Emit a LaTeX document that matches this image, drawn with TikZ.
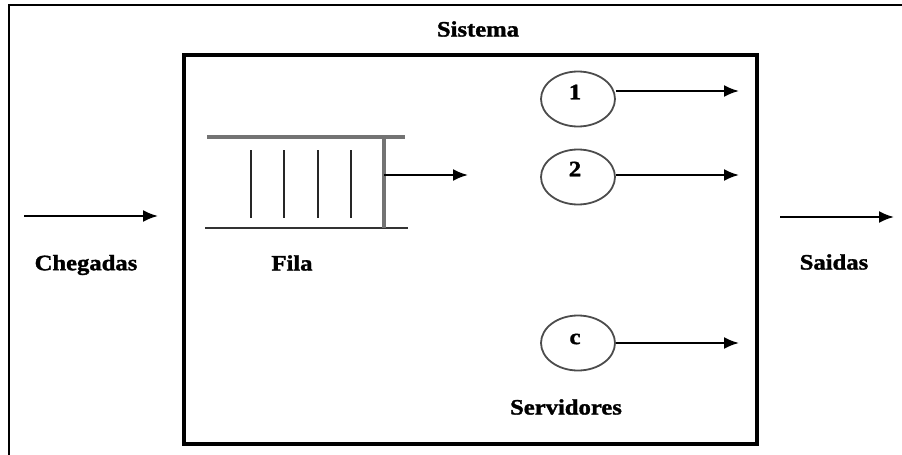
\documentclass[tikz,border=0pt]{standalone}
\usepackage{fontspec}
\setmainfont{Liberation Serif}
\newfontfamily\lblfont[FakeStretch=1.12,FakeBold=1.5]{Liberation Serif}
\usetikzlibrary{arrows.meta,shapes.geometric}
\begin{document}
\begin{tikzpicture}[x=1pt,y=-1pt,
  lbl/.style={font=\lblfont\fontsize{22}{24}\bfseries\selectfont, inner sep=0pt},
  num/.style={font=\lblfont\fontsize{22}{24}\bfseries\selectfont, inner sep=0pt},
  srv/.style={draw=black!70, line width=1.8pt, ellipse, minimum width=74pt, minimum height=55pt, inner sep=0pt},
  flow/.style={line width=2.2pt, -{Latex[length=15pt,width=12pt]}},
  qline/.style={line width=3.5pt, draw=black!55},
  bar/.style={line width=2.2pt, draw=black!85}]
  \useasboundingbox (0,0) rectangle (902,455);
  \fill[white] (0,0) rectangle (902,455);

  % outer frame (top and left edges)
  \draw[line width=2.4pt] (9,455) -- (9,5) -- (902,5);

  % system boundary
  \node[lbl] (sistema) at (478,29) {Sistema};
  \draw[line width=3.4pt] (184,55) rectangle (757,444);

  % queue
  \coordinate (qtl) at (207,137);
  \coordinate (qtr) at (405,137);
  \coordinate (qbl) at (205,228);
  \coordinate (qbr) at (408,228);
  \coordinate (qe1) at (384,137);
  \coordinate (qe2) at (384,228);
  \draw[qline] (qtl) -- (qtr);
  \draw[line width=2.4pt, draw=black!80] (qbl) -- (qbr);
  \draw[qline] (qe1) -- (qe2);
  \foreach \x in {251,284,318,351}
    \draw[bar] (\x,150) -- (\x,218);
  \node[lbl] (fila) at (292,263) {Fila};
  \coordinate (qout) at (384,175);
  \coordinate (qarr) at (468,175);
  \draw[flow] (qout) -- (qarr);

  % servers
  \node[srv] (s1) at (578,99) {};
  \node[num] (n1) at (575,92) {1};
  \node[srv] (s2) at (578,177) {};
  \node[num] (n2) at (575,169) {2};
  \node[srv] (sc) at (578,343) {};
  \node[num] (nc) at (575,339) {c};
  \node[lbl] (serv) at (566,407) {Servidores};

  \coordinate (o1) at (739,91);
  \coordinate (o2) at (739,175);
  \coordinate (oc) at (739,343);
  \draw[flow] (s1.east |- o1) -- (o1);
  \draw[flow] (s2.east |- o2) -- (o2);
  \draw[flow] (sc.east) -- (oc);

  % arrivals and departures
  \coordinate (a0) at (24,216);
  \coordinate (a1) at (158,216);
  \draw[flow] (a0) -- (a1);
  \node[lbl] (cheg) at (86,265) {Chegadas};
  \coordinate (d0) at (780,217);
  \coordinate (d1) at (894,217);
  \draw[flow] (d0) -- (d1);
  \node[lbl] (said) at (834,262) {Saidas};
\end{tikzpicture}
\end{document}
